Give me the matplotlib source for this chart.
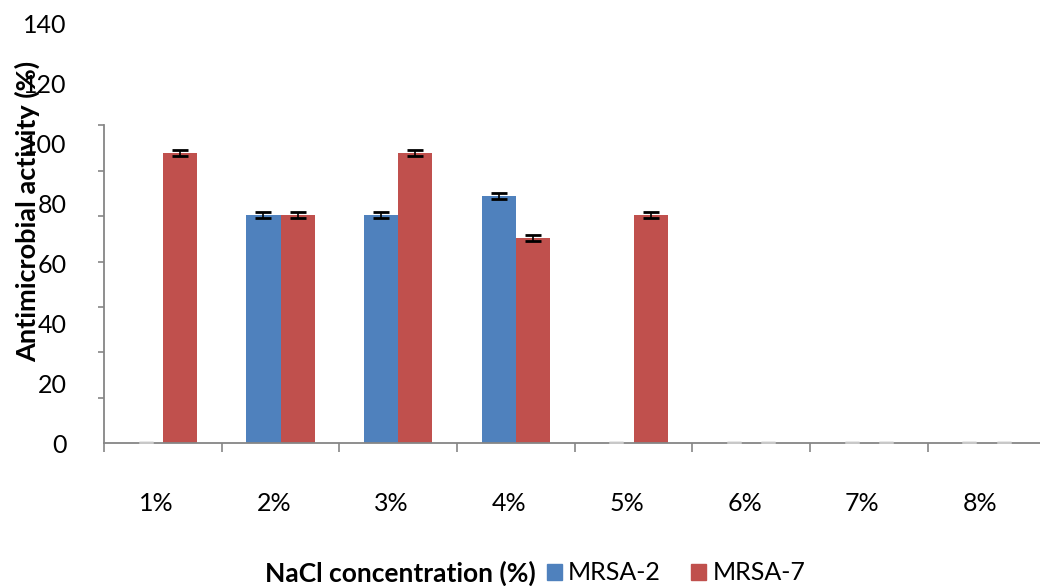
import numpy as np
import matplotlib
matplotlib.use('Agg')
import matplotlib.pyplot as plt
import matplotlib.transforms as mtransforms
from matplotlib.patches import Patch

plt.rcParams['font.family'] = ['Lato', 'DejaVu Sans']

# Data
categories = ['1%', '2%', '3%', '4%', '5%', '6%', '7%', '8%']
mrsa2 = [0, 76, 76, 82.5, 0, 0, 0, 0]
mrsa7 = [96.7, 76, 96.7, 68.5, 76, 0, 0, 0]
mrsa2_err = [0, 1.0, 1.0, 1.0, 0, 0, 0, 0]
mrsa7_err = [1.0, 1.0, 1.0, 1.0, 1.0, 0, 0, 0]
ytick_labels = [0, 20, 40, 60, 80, 100, 120, 140]

BLUE = '#4F81BD'
RED = '#C0504D'
GREY = '#868686'

fig = plt.figure(figsize=(10.4, 5.86), dpi=100)
W, H = 1040, 586
ax = fig.add_axes([104 / W, 142.7 / H, 941.4 / W, 435 / H])

x = np.arange(len(categories))
bw = 0.29
ax.bar(x - bw / 2, mrsa2, bw, color=BLUE, zorder=2)
ax.bar(x + bw / 2, mrsa7, bw, color=RED, zorder=2)

# error bars (zero values show as faint caps on the axis)
for off, vals, errs in [(-bw / 2, mrsa2, mrsa2_err), (bw / 2, mrsa7, mrsa7_err)]:
    vals = np.array(vals)
    errs = np.array(errs)
    nz = vals > 0
    ax.errorbar(x[nz] + off, vals[nz], yerr=errs[nz], fmt='none', ecolor='black',
                elinewidth=1.2, capsize=5.5, capthick=2, zorder=3)
    ax.errorbar(x[~nz] + off, vals[~nz], yerr=errs[~nz], fmt='none', ecolor='#c8c8c8',
                elinewidth=1, capsize=5, capthick=2.5, zorder=3)

ax.set_xlim(-0.5, 7.5)
ax.set_ylim(0, 145)

for s in ['top', 'right']:
    ax.spines[s].set_visible(False)
for s in ['left', 'bottom']:
    ax.spines[s].set_color(GREY)
    ax.spines[s].set_linewidth(1.3)
ax.spines['left'].set_bounds(0, 106)

# y axis: labels and tick marks are drawn separately
ax.set_yticks(ytick_labels)
ax.set_yticklabels([str(v) for v in ytick_labels], fontsize=18)
ax.set_yticks(np.linspace(0, 106, 8), minor=True)
ax.tick_params(axis='y', which='major', length=0, pad=27)
ax.tick_params(axis='y', which='minor', length=4, width=1.2, color=GREY, direction='out')

# x axis
ax.set_xticks(x)
ax.set_xticklabels(categories, fontsize=18)
ax.set_xticks(np.arange(-0.5, 8, 1), minor=True)
ax.tick_params(axis='x', which='major', length=0, pad=35)
ax.tick_params(axis='x', which='minor', length=6.5, width=1.2, color=GREY, direction='out')
shift = mtransforms.ScaledTranslation(-6.5 / 100, 0, fig.dpi_scale_trans)
for lbl in ax.get_xticklabels():
    lbl.set_transform(lbl.get_transform() + shift)

fig.text(27 / W, 1 - 211 / H, 'Antimicrobial activity (%)', rotation=90,
         fontsize=19.5, fontweight='bold', ha='center', va='center')
fig.text(265 / W, 1 - 573 / H, 'NaCl concentration (%)', fontsize=19,
         fontweight='bold', ha='left', va='center')

handles = [Patch(color=BLUE, label='MRSA-2'), Patch(color=RED, label='MRSA-7')]
fig.legend(handles=handles, loc='center left', bbox_to_anchor=(547 / W, 1 - 573 / H),
           ncol=2, frameon=False, fontsize=18, handlelength=0.6, handleheight=0.6,
           handletextpad=0.25, columnspacing=1.2, borderpad=0, borderaxespad=0)

fig.savefig('out.png', dpi=100)
